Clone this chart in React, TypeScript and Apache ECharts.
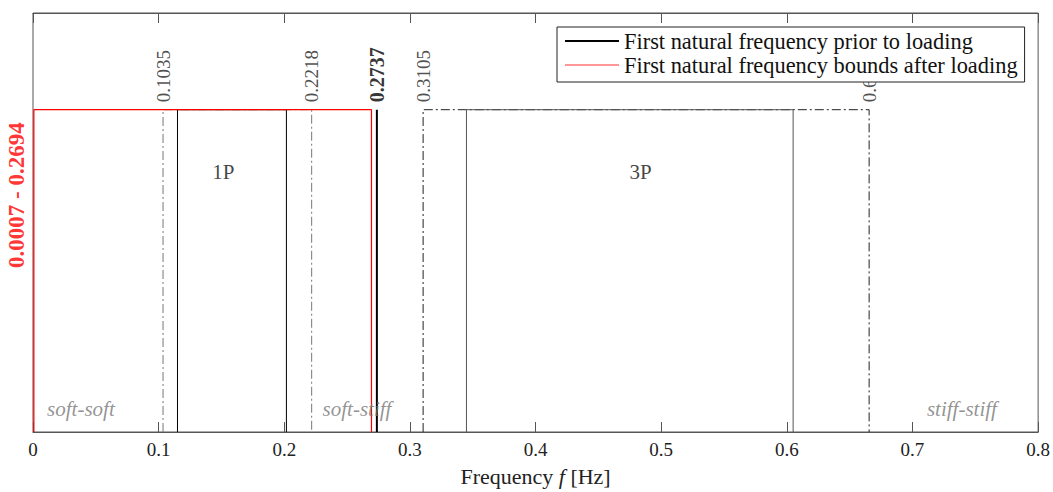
import React, { useEffect, useRef } from "react";
import * as echarts from "echarts";

// ---- data ----
const xTickLabels = ["0", "0.1", "0.2", "0.3", "0.4", "0.5", "0.6", "0.7", "0.8"];
const xMin = 0;
const xMax = 0.8;
const xStep = 0.1;
const yMax = 1.3;
const boxTop = 1;

const boundsAfterLoading = [0.0007, 0.2694];
const priorToLoading = 0.2737;
const band1P = [0.115, 0.2017];
const band3P = [0.345, 0.605];
const margin1P = [0.1035, 0.2218];
const margin3P = [0.3105, 0.6655];

const valueLabelX = [0.1035, 0.2218, 0.2737, 0.3105, 0.6655];
const valueLabelText = ["0.1035", "0.2218", "0.2737", "0.3105", "0.6655"];
const valueLabelBold = [false, false, true, false, false];

const bandNames = ["1P", "3P"];
const bandNameX = [0.1427, 0.4747];
const bandNameY = 0.807;

const regionNames = ["soft-soft", "soft-stiff", "stiff-stiff"];
const regionX = [0.0112, 0.2305, 0.7115];
const regionY = 0.07;

const boundsLabel = "0.0007 - 0.2694";
const boundsLabelY = 0.735;

const legendNames = [
  "First natural frequency prior to loading",
  "First natural frequency bounds after loading",
];

const FONT = "Liberation Serif";

function rectPath(a: number, b: number, h: number) {
  return [
    [a, 0],
    [a, h],
    [b, h],
    [b, 0],
  ];
}

const DASH_DOT = [9, 3, 2, 3];

export default function App() {
  const ref = useRef<HTMLDivElement>(null);

  useEffect(() => {
    if (!ref.current) return;
    const chart = echarts.init(ref.current, undefined, { renderer: "svg" });

    const lineBase = {
      type: "line" as const,
      symbol: "none",
      showSymbol: false,
      silent: true,
      clip: false,
    };

    const option: any = {
      animation: false,
      backgroundColor: "#ffffff",
      grid: {
        show: true,
        left: 33,
        right: 14,
        top: 13,
        bottom: 57,
        borderColor: "#555",
        borderWidth: 1,
        backgroundColor: "transparent",
      },
      legend: {
        show: true,
        orient: "vertical",
        left: 557,
        top: 27,
        padding: [3, 7, 6, 8],
        itemGap: 2,
        itemWidth: 54,
        itemHeight: 22,
        borderColor: "#222",
        borderWidth: 1,
        backgroundColor: "#ffffff",
        data: [
          {
            name: legendNames[0],
            icon: "path://M0,10 L54,10 L54,12 L0,12 Z",
            itemStyle: { color: "#000" },
          },
          {
            name: legendNames[1],
            icon: "path://M0,10.5 L54,10.5 L54,11.7 L0,11.7 Z",
            itemStyle: { color: "#ff3030" },
          },
        ],
        textStyle: { fontFamily: FONT, fontSize: 22.4, color: "#111", lineHeight: 22 },
      },
      xAxis: [
        {
          type: "value",
          min: xMin,
          max: xMax,
          interval: xStep,
          position: "bottom",
          axisLine: { show: true, onZero: false, lineStyle: { color: "#555", width: 1.2 } },
          axisTick: { show: true, inside: true, length: 10, lineStyle: { color: "#555" } },
          splitLine: { show: false },
          axisLabel: {
            color: "#222",
            fontFamily: FONT,
            fontSize: 19,
            margin: 8,
            formatter: (v: number) => xTickLabels[Math.round((v - xMin) / xStep)] ?? "",
          },
          name: "Frequency {i|f} [Hz]",
          nameLocation: "middle",
          nameGap: 33,
          nameTextStyle: {
            fontFamily: FONT,
            fontSize: 22,
            color: "#222",
            rich: { i: { fontFamily: FONT, fontSize: 22, fontStyle: "italic", color: "#222" } },
          },
        },
        {
          type: "value",
          min: xMin,
          max: xMax,
          interval: xStep,
          position: "top",
          axisLine: { show: true, onZero: false, lineStyle: { color: "#555", width: 1.2 } },
          axisTick: { show: true, inside: true, length: 10, lineStyle: { color: "#555" } },
          splitLine: { show: false },
          axisLabel: { show: false },
        },
      ],
      yAxis: {
        type: "value",
        min: 0,
        max: yMax,
        show: false,
      },
      series: [
        {
          ...lineBase,
          data: rectPath(margin1P[0], margin1P[1], boxTop),
          lineStyle: { color: "#777", width: 1, type: DASH_DOT },
          z: 2,
        },
        {
          ...lineBase,
          data: rectPath(margin3P[0], margin3P[1], boxTop),
          lineStyle: { color: "#222", width: 1, type: DASH_DOT },
          z: 2,
        },
        {
          ...lineBase,
          data: rectPath(band1P[0], band1P[1], boxTop),
          lineStyle: { color: "#000", width: 1 },
          z: 3,
        },
        {
          ...lineBase,
          data: rectPath(band3P[0], band3P[1], boxTop),
          lineStyle: { color: "#555", width: 1 },
          z: 3,
        },
        {
          ...lineBase,
          name: legendNames[1],
          data: rectPath(boundsAfterLoading[0], boundsAfterLoading[1], boxTop),
          lineStyle: { color: "#ff0000", width: 1.2 },
          itemStyle: { color: "#ff0000" },
          z: 4,
        },
        {
          ...lineBase,
          name: legendNames[0],
          data: [
            [priorToLoading, 0],
            [priorToLoading, boxTop],
          ],
          lineStyle: { color: "#000", width: 2 },
          itemStyle: { color: "#000" },
          z: 5,
        },
        // rotated value labels above the boxes
        {
          type: "scatter",
          silent: true,
          clip: false,
          symbolSize: 1,
          itemStyle: { color: "transparent" },
          data: valueLabelX.map((x, i) => ({
            value: [x, boxTop],
            label: {
              show: true,
              formatter: valueLabelText[i],
              position: "top",
              distance: 7,
              rotate: 90,
              align: "left",
              verticalAlign: "middle",
              fontFamily: FONT,
              fontSize: valueLabelBold[i] ? 20 : 19,
              fontWeight: valueLabelBold[i] ? "bold" : "normal",
              color: valueLabelBold[i] ? "#000" : "#222",
            },
          })),
          z: 3,
        },
        // band names
        {
          type: "scatter",
          silent: true,
          symbolSize: 1,
          itemStyle: { color: "transparent" },
          data: bandNameX.map((x, i) => ({
            value: [x, bandNameY],
            label: {
              show: true,
              formatter: bandNames[i],
              position: "inside",
              align: "left",
              verticalAlign: "middle",
              fontFamily: FONT,
              fontSize: 21,
              color: "#111",
            },
          })),
        },
        // region names
        {
          type: "scatter",
          silent: true,
          symbolSize: 1,
          itemStyle: { color: "transparent" },
          data: regionX.map((x, i) => ({
            value: [x, regionY],
            label: {
              show: true,
              formatter: regionNames[i],
              position: "inside",
              align: "left",
              verticalAlign: "middle",
              fontFamily: FONT,
              fontSize: 21,
              fontStyle: "italic",
              color: "#777",
            },
          })),
          z: 6,
        },
        // red bounds label on the left
        {
          type: "scatter",
          silent: true,
          clip: false,
          symbolSize: 1,
          itemStyle: { color: "transparent" },
          data: [
            {
              value: [xMin, boundsLabelY],
              label: {
                show: true,
                formatter: boundsLabel,
                position: "left",
                distance: 5,
                rotate: 90,
                align: "center",
                verticalAlign: "bottom",
                fontFamily: FONT,
                fontSize: 23,
                fontWeight: "bold",
                color: "#ff0000",
              },
            },
          ],
        },
      ],
    };

    chart.setOption(option);
    return () => chart.dispose();
  }, []);

  return (
    <div
      ref={ref}
      style={{ position: "fixed", left: 0, top: 0, width: 1053, height: 492, background: "#fff" }}
    />
  );
}
